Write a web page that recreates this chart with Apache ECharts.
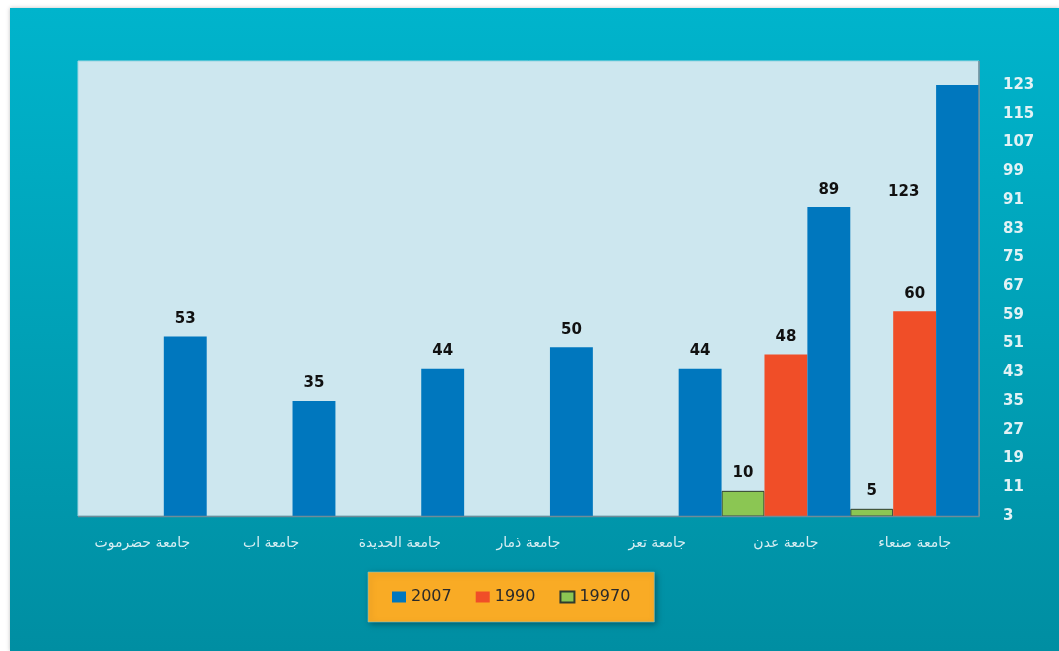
<!DOCTYPE html>
<html>
<head>
<meta charset="utf-8">
<script src="https://cdn.jsdelivr.net/npm/echarts@6/dist/echarts.min.js"></script>
<style>
  html, body { margin: 0; padding: 0; background: #fff; }
  #main { width: 1059px; height: 651px; }
</style>
</head>
<body>
<div id="main"></div>
<script type="text/javascript">
	// 数据
	var categories = ['جامعة حضرموت', 'جامعة اب', 'جامعة الحديدة', 'جامعة ذمار', 'جامعة تعز', 'جامعة عدن', 'جامعة صنعاء'];
	var v2007 = [53, 35, 44, 50, 44, 89, 123];
	var v1990 = [null, null, null, null, null, 48, 60];
	var v19970 = [null, null, null, null, null, 10, 5];
	var legendNames = ['2007', '1990', '19970'];

	var myChart = echarts.init(document.getElementById('main'));

	var labelStyle = {
		show: true,
		position: 'top',
		distance: 10,
		color: '#111',
		fontFamily: 'DejaVu Sans',
		fontWeight: 'bold',
		fontSize: 15
	};

	// 最后一根柱子的标签放在左边
	var data2007 = v2007.map(function (v, i) {
		if (i === v2007.length - 1) {
			return { value: v, label: { position: [-48, 100] } };
		}
		return v;
	});

	var option = {
		backgroundColor: '#ffffff',
		animation: false,
		graphic: [
			{
				type: 'rect', z: -20,
				shape: { x: 10, y: 8, width: 1049, height: 643 },
				style: {
					fill: new echarts.graphic.LinearGradient(0, 0, 0, 1, [
						{ offset: 0, color: '#00B4CC' },
						{ offset: 1, color: '#008EA2' }
					]),
					shadowBlur: 4, shadowColor: 'rgba(0,0,0,0.25)'
				}
			},
			{
				type: 'rect', z: -10,
				shape: { x: 78, y: 61, width: 901, height: 455 },
				style: { fill: '#CDE7EF', stroke: '#9fd6e2', lineWidth: 1 }
			},
			{
				type: 'polyline', z: 10,
				shape: { points: [[979, 61], [979, 516.5], [78, 516.5]] },
				style: { stroke: '#6E8C99', lineWidth: 1.5, fill: null }
			}
		],
		grid: { left: 78, right: 80, top: 85, bottom: 135 },
		legend: {
			data: legendNames,
			left: 368,
			top: 572,
			padding: [17, 24],
			icon: 'rect',
			itemWidth: 14,
			itemHeight: 11,
			itemGap: 24,
			backgroundColor: '#F9AB25',
			borderColor: 'rgba(120,200,210,0.6)',
			borderWidth: 1,
			shadowBlur: 6,
			shadowColor: 'rgba(0,0,0,0.35)',
			shadowOffsetX: 2,
			shadowOffsetY: 2,
			textStyle: { color: '#2a2a2a', fontSize: 16, fontFamily: 'DejaVu Sans' }
		},
		xAxis: {
			type: 'category',
			data: categories,
			axisLine: { show: false },
			axisTick: { show: false },
			axisLabel: {
				color: '#D8EEF3',
				fontSize: 14,
				fontFamily: 'DejaVu Sans',
				margin: 20
			}
		},
		yAxis: {
			type: 'value',
			position: 'right',
			min: 3,
			max: 123,
			interval: 8,
			splitLine: { show: false },
			axisLine: { show: false },
			axisTick: { show: false },
			axisLabel: {
				color: '#E2F2F5',
				fontSize: 15,
				fontWeight: 'bold',
				fontFamily: 'DejaVu Sans',
				margin: 24,
				align: 'left'
			}
		},
		series: [
			{
				name: '19970', type: 'bar', data: v19970,
				barGap: '0%', barCategoryGap: '0%',
				itemStyle: { color: '#8BC653', borderColor: '#2f3b2f', borderWidth: 1 },
				label: labelStyle
			},
			{
				name: '1990', type: 'bar', data: v1990,
				itemStyle: { color: '#F04E28' },
				label: labelStyle
			},
			{
				name: '2007', type: 'bar', data: data2007,
				itemStyle: { color: '#0077BE' },
				label: labelStyle
			}
		]
	};

	myChart.setOption(option);
</script>
</body>
</html>
